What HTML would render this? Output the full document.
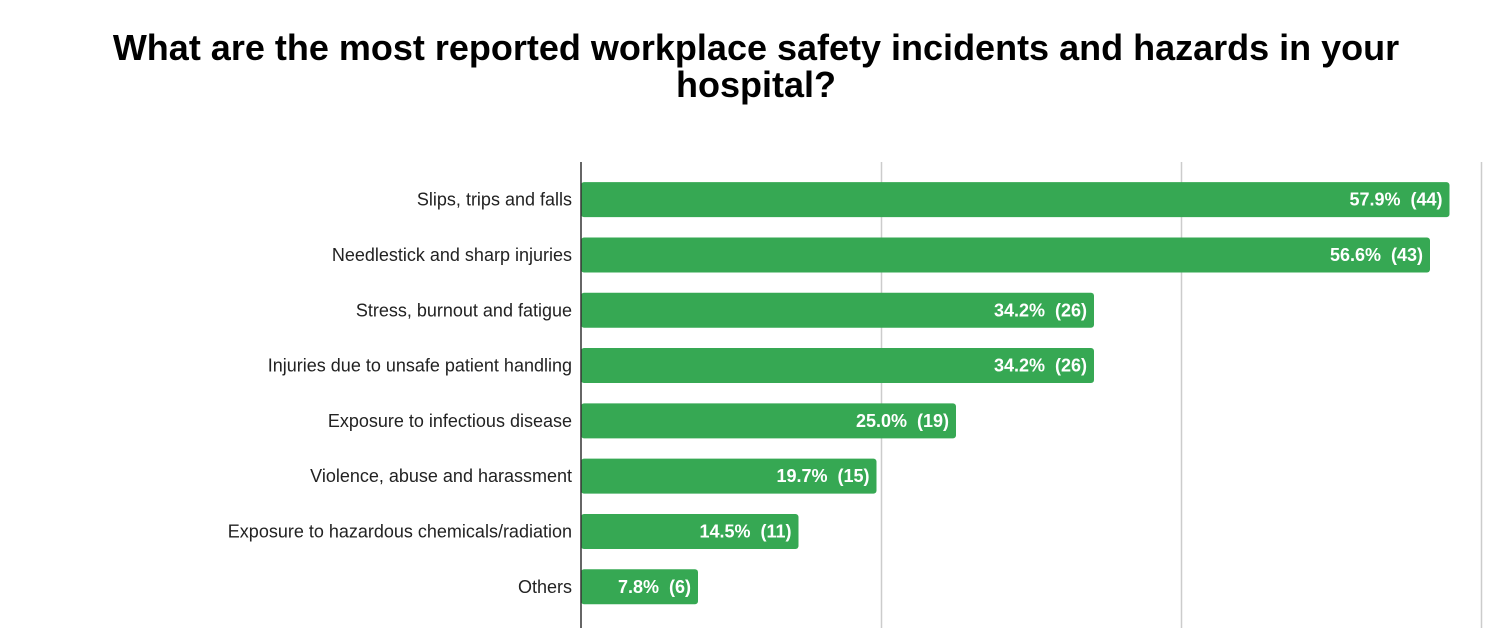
<!DOCTYPE html>
<html><head><meta charset="utf-8">
<style>
html,body{margin:0;padding:0;background:#fff;width:1512px;height:628px;overflow:hidden;font-family:"Liberation Sans",Arial,sans-serif;}
#title{position:absolute;left:0;width:1512px;top:29px;text-align:center;font-weight:bold;font-size:36px;line-height:37px;color:#000;}
text{white-space:pre;}
</style></head><body>
<div id="title">What are the most reported workplace safety incidents and hazards in your<br>hospital?</div>
<svg id="chart" width="1512" height="628" style="position:absolute;left:0;top:0"></svg>
<script>
const categories=["Slips, trips and falls","Needlestick and sharp injuries","Stress, burnout and fatigue","Injuries due to unsafe patient handling","Exposure to infectious disease","Violence, abuse and harassment","Exposure to hazardous chemicals/radiation","Others"];
const percents=[57.9,56.6,34.2,34.2,25.0,19.7,14.5,7.8];
const counts=[44,43,26,26,19,15,11,6];
const gridTicks=[20,40,60];
const svg=document.getElementById('chart');
const NS='http://www.w3.org/2000/svg';
const x0=581,pxPer=15,top0=172,band=55.3,barH=35;
const xs=v=>x0+v*pxPer;
const yc=i=>top0+band*i+band/2;
function mk(t,a){const e=document.createElementNS(NS,t);for(const k in a)e.setAttribute(k,a[k]);svg.appendChild(e);return e;}
gridTicks.forEach(t=>{
  const l=mk('line',{x1:xs(t)+0.5,x2:xs(t)+0.5,y1:162,y2:628,stroke:'#ccc','stroke-width':1.5});
  
  
});
categories.forEach((c,i)=>{
  const y=yc(i);
  const r=mk('rect',{x:x0,y:y-barH/2,width:xs(percents[i])-x0,height:barH,rx:3,fill:'#36a853'});
  
  
  const lab=mk('text',{x:572,y:y+6,'text-anchor':'end','font-size':18,fill:'#222','font-family':'Liberation Sans, Arial, sans-serif'});
  lab.textContent=c;
  
  
  const v=mk('text',{x:xs(percents[i])-7,y:y+6,'text-anchor':'end','font-size':18,'font-weight':'bold',fill:'#fff','font-family':'Liberation Sans, Arial, sans-serif'});
  v.textContent=percents[i].toFixed(1)+'%  ('+counts[i]+')';
  
  
});
const ax=mk('line',{x1:x0,x2:x0,y1:162,y2:628,stroke:'#333','stroke-width':1.5});


</script>
</body></html>
